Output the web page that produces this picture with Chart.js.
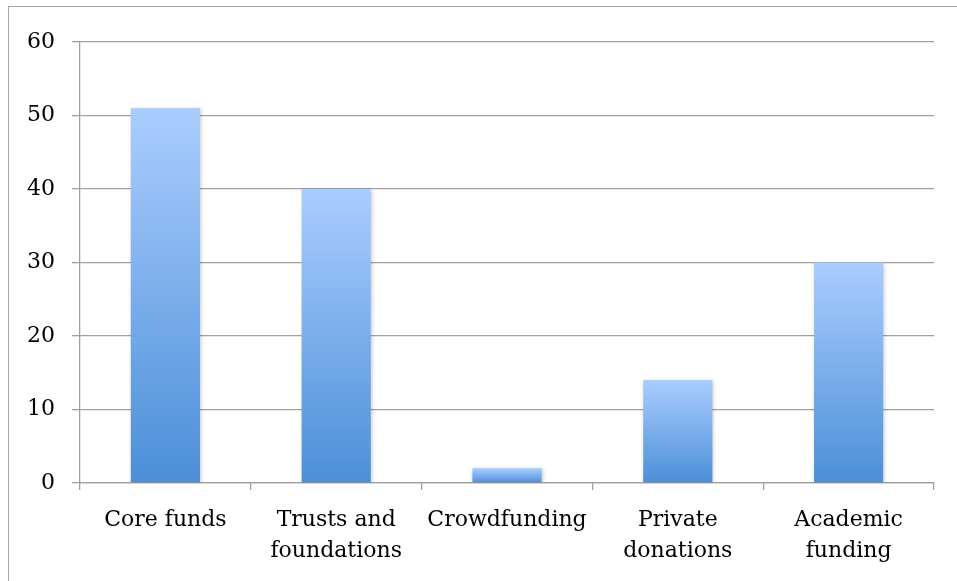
<!DOCTYPE html>
<html>
<head>
<meta charset="utf-8">
<script src="https://cdn.jsdelivr.net/npm/chart.js@4/dist/chart.umd.min.js"></script>
<style>
  html, body { margin: 0; padding: 0; background: #fff; }
  #wrap { position: relative; width: 957px; height: 581px; }
  #frame { position: absolute; left: 8px; top: 6px; right: 0; bottom: 0;
           border-left: 1.5px solid #a3a3a3; border-top: 1.5px solid #a3a3a3; }
  #chart { position: absolute; left: 0; top: 0; }
</style>
</head>
<body>
<div id="wrap">
  <div id="frame"></div>
  <canvas id="chart" width="957" height="581"></canvas>
</div>
<script>
// Chart data
const categories = [
    'Core funds',
    ['Trusts and', 'foundations'],
    'Crowdfunding',
    ['Private', 'donations'],
    ['Academic', 'funding']
];
const values = [51, 40, 2, 14, 30];
const yMin = 0;
const yMax = 60;
const yStep = 10;

// per-bar vertical gradient, light at the top, darker at the base
function barGradient(context) {
    const chart = context.chart;
    const y = chart.scales.y;
    if (!y || context.dataIndex === undefined) return '#7aaee8';
    const top = y.getPixelForValue(values[context.dataIndex]);
    const bottom = y.getPixelForValue(0);
    if (!isFinite(top) || !isFinite(bottom) || top === bottom) return '#7aaee8';
    const g = chart.ctx.createLinearGradient(0, top, 0, bottom);
    g.addColorStop(0, '#aacdfe');
    g.addColorStop(1, '#4b8fd8');
    return g;
}

// soft shadow behind the bars
const barShadow = {
    id: 'barShadow',
    beforeDatasetsDraw(chart) {
        const ctx = chart.ctx;
        ctx.save();
        ctx.shadowColor = 'rgba(0,0,0,0.22)';
        ctx.shadowBlur = 4;
        ctx.shadowOffsetX = 1;
        ctx.shadowOffsetY = 1;
    },
    afterDatasetsDraw(chart) {
        chart.ctx.restore();
    }
};

const font = { family: '"DejaVu Serif", serif', size: 22 };

new Chart(document.getElementById('chart').getContext('2d'), {
    type: 'bar',
    data: {
        labels: categories,
        datasets: [{
            data: values,
            backgroundColor: barGradient,
            borderWidth: 0,
            categoryPercentage: 0.405,
            barPercentage: 1
        }]
    },
    plugins: [barShadow],
    options: {
        responsive: false,
        animation: false,
        layout: { padding: { top: 42, right: 23, left: 0, bottom: 0 } },
        plugins: {
            legend: { display: false },
            tooltip: { enabled: false }
        },
        scales: {
            x: {
                grid: {
                    offset: true,
                    drawOnChartArea: false,
                    drawTicks: true,
                    tickLength: 7,
                    color: '#a0a0a0',
                    lineWidth: 1.3
                },
                border: { color: '#a0a0a0', width: 1.3 },
                ticks: {
                    color: '#000',
                    font: Object.assign({ lineHeight: 1.4 }, font),
                    padding: 15,
                    maxRotation: 0,
                    autoSkip: false
                },
                afterFit(scale) { scale.height = 98; }
            },
            y: {
                min: yMin,
                max: yMax,
                grid: {
                    color: '#a0a0a0',
                    lineWidth: 1.3,
                    drawTicks: true,
                    tickLength: 8
                },
                border: { color: '#a0a0a0', width: 1.3 },
                ticks: {
                    stepSize: yStep,
                    color: '#000',
                    font: font,
                    padding: 17
                },
                afterFit(scale) { scale.width = 80; }
            }
        }
    }
});
</script>
</body>
</html>
